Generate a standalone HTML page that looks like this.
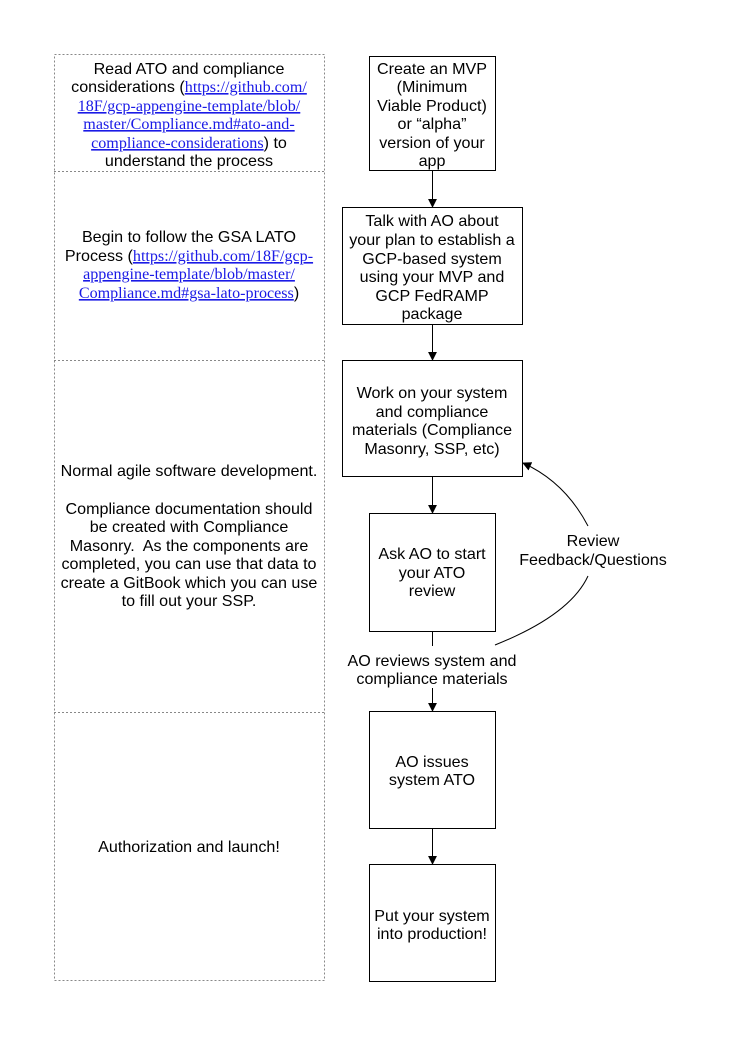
<!DOCTYPE html>
<html><head><meta charset="utf-8"><style>
html,body{margin:0;padding:0;background:#fff;}
svg{display:block;}
text{font-family:"Liberation Sans",Arial,sans-serif;font-size:16.1px;fill:#000;}
.l{font-family:"Liberation Serif",serif;fill:#1a1ae6;text-decoration:underline;}
</style></head><body>
<svg width="746" height="1053" viewBox="0 0 746 1053" xmlns="http://www.w3.org/2000/svg">
<defs><marker id="a" viewBox="0 0 10 10" refX="9" refY="5" markerWidth="9" markerHeight="9" markerUnits="userSpaceOnUse" orient="auto"><path d="M0,0 L10,5 L0,10 z" fill="#000"/></marker></defs>
<g fill="none" stroke="#888" stroke-dasharray="2,2" stroke-width="1">
<rect x="54.5" y="54.5" width="270" height="926"/>
<line x1="54" y1="171.5" x2="325" y2="171.5"/>
<line x1="54" y1="360.5" x2="325" y2="360.5"/>
<line x1="54" y1="712.5" x2="325" y2="712.5"/>
</g>
<g text-anchor="middle">
<text x="189" y="74">Read ATO and compliance</text>
<text x="189" y="92">considerations (<tspan class="l">https://github.com/</tspan></text>
<text x="189" y="111" class="l">18F/gcp-appengine-template/blob/</text>
<text x="189" y="129" class="l">master/Compliance.md#ato-and-</text>
<text x="189" y="148"><tspan class="l">compliance-considerations</tspan>) to</text>
<text x="189" y="166">understand the process</text>

<text x="189" y="242">Begin to follow the GSA LATO</text>
<text x="189" y="261">Process (<tspan class="l">https://github.com/18F/gcp-</tspan></text>
<text x="189" y="279" class="l">appengine-template/blob/master/</text>
<text x="189" y="298"><tspan class="l">Compliance.md#gsa-lato-process</tspan>)</text>

<text x="189" y="476">Normal agile software development.</text>
<text x="189" y="514">Compliance documentation should</text>
<text x="189" y="532">be created with Compliance</text>
<text x="189" y="551" xml:space="preserve">Masonry.  As the components are</text>
<text x="189" y="569">completed, you can use that data to</text>
<text x="189" y="588">create a GitBook which you can use</text>
<text x="189" y="606">to fill out your SSP.</text>

<text x="189" y="852">Authorization and launch!</text>
</g>
<g fill="none" stroke="#000" stroke-width="1">
<rect x="369.5" y="56.5" width="126" height="114"/>
<rect x="342.5" y="207.5" width="180" height="117"/>
<rect x="342.5" y="360.5" width="180" height="116"/>
<rect x="369.5" y="513.5" width="126" height="118"/>
<rect x="369.5" y="711.5" width="126" height="117"/>
<rect x="369.5" y="864.5" width="126" height="117"/>
<line x1="432.5" y1="171" x2="432.5" y2="207" marker-end="url(#a)"/>
<line x1="432.5" y1="325" x2="432.5" y2="360" marker-end="url(#a)"/>
<line x1="432.5" y1="477" x2="432.5" y2="513" marker-end="url(#a)"/>
<line x1="432.5" y1="632" x2="432.5" y2="646"/>
<line x1="432.5" y1="688" x2="432.5" y2="711" marker-end="url(#a)"/>
<line x1="432.5" y1="829" x2="432.5" y2="864" marker-end="url(#a)"/>
<path d="M495,645 Q570,615 588,576"/>
<path d="M588,526 Q565,482 523,463" marker-end="url(#a)"/>
</g>
<g text-anchor="middle">
<text x="432" y="74">Create an MVP</text>
<text x="432" y="92">(Minimum</text>
<text x="432" y="111">Viable Product)</text>
<text x="432" y="129">or “alpha”</text>
<text x="432" y="148">version of your</text>
<text x="432" y="166">app</text>

<text x="432" y="226">Talk with AO about</text>
<text x="432" y="245">your plan to establish a</text>
<text x="432" y="264">GCP-based system</text>
<text x="432" y="282">using your MVP and</text>
<text x="432" y="301">GCP FedRAMP</text>
<text x="432" y="319">package</text>

<text x="432" y="398">Work on your system</text>
<text x="432" y="417">and compliance</text>
<text x="432" y="435">materials (Compliance</text>
<text x="432" y="454">Masonry, SSP, etc)</text>

<text x="432" y="559">Ask AO to start</text>
<text x="432" y="578">your ATO</text>
<text x="432" y="596">review</text>

<text x="432" y="666">AO reviews system and</text>
<text x="432" y="684">compliance materials</text>

<text x="432" y="767">AO issues</text>
<text x="432" y="785">system ATO</text>

<text x="432" y="921">Put your system</text>
<text x="432" y="939">into production!</text>

<text x="593" y="546">Review</text>
<text x="593" y="565">Feedback/Questions</text>
</g>
</svg>
</body></html>
